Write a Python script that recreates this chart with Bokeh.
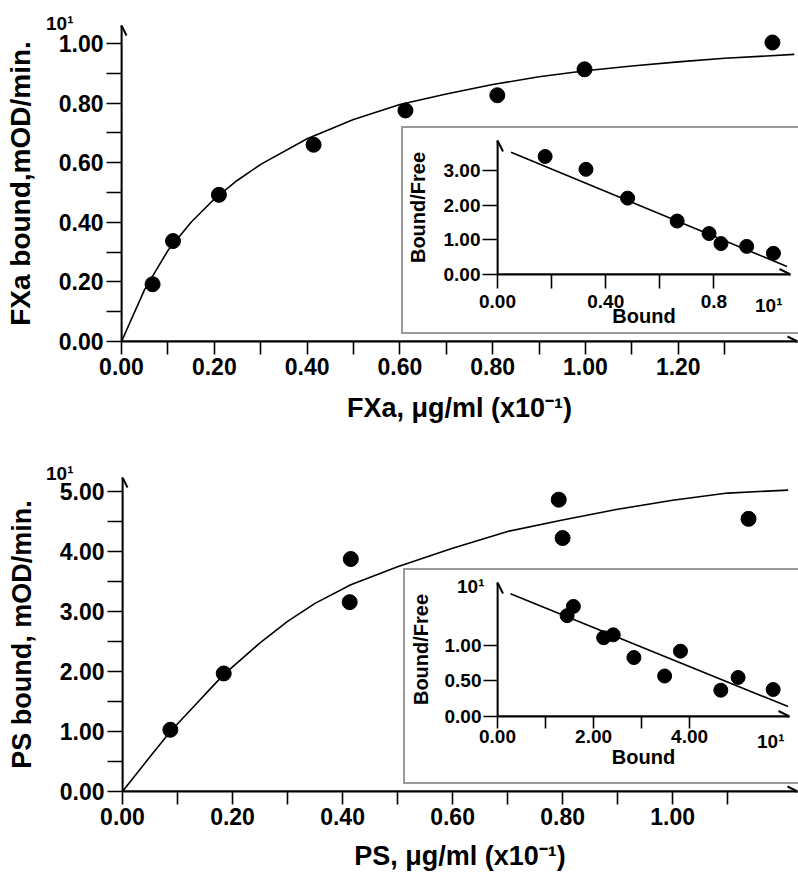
from bokeh.plotting import figure
from bokeh.models import (FixedTicker, PrintfTickFormatter, Arrow, OpenHead, Div, Range1d)
from bokeh.embed import file_html
from bokeh.resources import INLINE

FONT = "Liberation Sans"

# ---------------- data: FXa panel ----------------
fxa_conc = [0.067, 0.111, 0.21, 0.414, 0.612, 0.81, 0.998, 1.403]
fxa_bound = [0.192, 0.337, 0.492, 0.660, 0.775, 0.826, 0.913, 1.003]
fxa_fit_x = [0, 0.05, 0.1, 0.15, 0.2, 0.25, 0.3, 0.4, 0.5, 0.6, 0.7, 0.8, 0.9, 1.0, 1.1, 1.2, 1.3, 1.45]
fxa_fit_y = [0, 0.175, 0.305, 0.40, 0.478, 0.541, 0.594, 0.68, 0.745, 0.795, 0.83, 0.862, 0.888, 0.908, 0.924, 0.938, 0.95, 0.963]
fxa_sc_bound = [0.176, 0.327, 0.481, 0.664, 0.782, 0.826, 0.921, 1.02]
fxa_sc_ratio = [3.40, 3.03, 2.20, 1.54, 1.18, 0.89, 0.81, 0.61]
fxa_sc_line_x = [0.05, 1.07]
fxa_sc_line_y = [3.52, 0.23]

# ---------------- data: PS panel ----------------
ps_conc = [0.087, 0.184, 0.415, 0.413, 0.793, 0.80, 1.136, 1.138]
ps_bound = [1.03, 1.97, 3.88, 3.16, 4.87, 4.23, 5.46, 4.55]
ps_fit_x = [0, 0.05, 0.087, 0.15, 0.184, 0.25, 0.3, 0.35, 0.415, 0.5, 0.6, 0.7, 0.8, 0.9, 1.0, 1.1, 1.21]
ps_fit_y = [0, 0.58, 1.0, 1.62, 1.95, 2.48, 2.84, 3.14, 3.45, 3.75, 4.06, 4.34, 4.53, 4.71, 4.86, 4.98, 5.03]
ps_sc_bound = [1.58, 1.45, 2.21, 2.41, 2.84, 3.81, 3.48, 4.65, 5.01, 5.74]
ps_sc_ratio = [1.55, 1.42, 1.11, 1.15, 0.83, 0.92, 0.57, 0.37, 0.55, 0.38]
ps_sc_line_x = [0.27, 6.05]
ps_sc_line_y = [1.73, 0.14]

# ---------------- ticks ----------------
m1_x_major = [0, 0.2, 0.4, 0.6, 0.8, 1.0, 1.2]
m1_x_minor = [0.1, 0.3, 0.5, 0.7, 0.9, 1.1, 1.3]
m1_y_major = [0, 0.2, 0.4, 0.6, 0.8, 1.0]
m1_y_minor = [0.1, 0.3, 0.5, 0.7, 0.9]
m2_x_major = [0, 0.2, 0.4, 0.6, 0.8, 1.0]
m2_x_minor = [0.1, 0.3, 0.5, 0.7, 0.9, 1.1]
m2_y_major = [0, 1, 2, 3, 4, 5]
m2_y_minor = [0.5, 1.5, 2.5, 3.5, 4.5]
i1_x_major = [0, 0.4, 0.8]
i1_x_minor = [0.2, 0.6]
i1_y_major = [0, 1, 2, 3]
i2_x_major = [0, 2, 4]
i2_x_minor = [1, 3]
i2_y_major = [0, 0.5, 1.0]
EXP = "10\u00b9"

# ranges (arrow tips)
m1_xr, m1_yr = (0, 1.457), (0, 1.06)
m2_xr, m2_yr = (0, 1.227), (0, 5.24)
i1_xr, i1_yr = (0, 1.083), (0, 3.86)
i2_xr, i2_yr = (0, 6.08), (0, 1.887)


def make_fig(width, height, left, top, fw, fh, xr, yr, pos, extra_styles=None):
    p = figure(width=width, height=height, x_range=Range1d(*xr), y_range=Range1d(*yr),
               output_backend="svg", toolbar_location=None,
               min_border_left=left, min_border_top=top,
               min_border_right=width - left - fw, min_border_bottom=height - top - fh)
    p.xgrid.visible = False
    p.ygrid.visible = False
    p.outline_line_color = None
    p.background_fill_color = "white"
    p.border_fill_color = "white"
    st = {"position": "absolute", "left": f"{pos[0]}px", "top": f"{pos[1]}px"}
    if extra_styles:
        st.update(extra_styles)
    p.styles = st
    return p


def style_axis(ax, major, minor, fmt, tick_len, lab_size, lab_standoff,
               title, title_size, title_standoff):
    ax.ticker = FixedTicker(ticks=major, minor_ticks=minor)
    ax.formatter = PrintfTickFormatter(format=fmt)
    ax.major_tick_in = 0
    ax.minor_tick_in = 0
    ax.major_tick_out = tick_len
    ax.minor_tick_out = tick_len if minor else 0
    ax.major_tick_line_width = 1.6
    ax.minor_tick_line_width = 1.6
    ax.major_tick_line_color = "black"
    ax.minor_tick_line_color = "black"
    ax.axis_line_width = 1.8
    ax.axis_line_color = "black"
    ax.major_label_text_font = FONT
    ax.major_label_text_font_style = "bold"
    ax.major_label_text_font_size = lab_size
    ax.major_label_text_color = "black"
    ax.major_label_standoff = lab_standoff
    ax.axis_label = title
    ax.axis_label_text_font = FONT
    ax.axis_label_text_font_style = "bold"
    ax.axis_label_text_font_size = title_size
    ax.axis_label_text_color = "black"
    ax.axis_label_standoff = title_standoff


def add_arrows(p, xr, yr, size):
    p.add_layout(Arrow(end=OpenHead(size=size, line_width=2, line_color="black"),
                       x_start=xr[0], y_start=yr[0], x_end=xr[1], y_end=yr[0],
                       line_width=1.8, line_color="black"))
    p.add_layout(Arrow(end=OpenHead(size=size, line_width=2, line_color="black"),
                       x_start=xr[0], y_start=yr[0], x_end=xr[0], y_end=yr[1],
                       line_width=1.8, line_color="black"))


def exp_div(left, top, size):
    return Div(text=EXP, width=44, height=int(size) + 6,
               styles={"position": "absolute", "left": f"{left}px", "top": f"{top}px",
                       "font-family": FONT, "font-weight": "bold",
                       "font-size": f"{size}px", "line-height": f"{size}px",
                       "color": "black", "margin": "0", "padding": "0"})


BOX = {"box-shadow": "0 0 0 2px #9a9a9a"}

# ---------------- main FXa ----------------
p1 = make_fig(798, 435, 121, 25, 676, 316, m1_xr, m1_yr, (0, 0))
style_axis(p1.xaxis[0], m1_x_major, m1_x_minor, "%.2f", 13, "23px", 3,
           "FXa, \u03bcg/ml (x10\u207b\u00b9)", "27px", 15)
style_axis(p1.yaxis[0], m1_y_major, m1_y_minor, "%.2f", 15, "23px", 3,
           "FXa bound,mOD/min.", "28px", 20)
p1.line(fxa_fit_x, fxa_fit_y, line_width=1.6, color="black")
p1.scatter(fxa_conc, fxa_bound, size=15, color="black")
add_arrows(p1, m1_xr, m1_yr, 10)

# ---------------- inset FXa ----------------
q1 = make_fig(395, 204, 92, 12, 295, 134, i1_xr, i1_yr, (403, 128), BOX)
style_axis(q1.xaxis[0], i1_x_major, i1_x_minor, "%.2f", 14, "19px", 6, "Bound", "20px", -6)
q1.xaxis[0].major_label_overrides = {0.8: "0.8"}
style_axis(q1.yaxis[0], i1_y_major, [], "%.2f", 15, "19px", 2, "Bound/Free", "20px", 12)
q1.line(fxa_sc_line_x, fxa_sc_line_y, line_width=1.6, color="black")
q1.scatter(fxa_sc_bound, fxa_sc_ratio, size=14, color="black")
add_arrows(q1, i1_xr, i1_yr, 11)

# ---------------- main PS ----------------
p2 = make_fig(798, 432, 122, 32, 675, 314, m2_xr, m2_yr, (0, 445))
style_axis(p2.xaxis[0], m2_x_major, m2_x_minor, "%.2f", 13, "23px", 3,
           "PS, \u03bcg/ml (x10\u207b\u00b9)", "27px", 13)
style_axis(p2.yaxis[0], m2_y_major, m2_y_minor, "%.2f", 15, "23px", 3,
           "PS bound, mOD/min.", "27px", 20)
p2.line(ps_fit_x, ps_fit_y, line_width=1.6, color="black")
p2.scatter(ps_conc, ps_bound, size=15, color="black")
add_arrows(p2, m2_xr, m2_yr, 10)

# ---------------- inset PS ----------------
q2 = make_fig(393, 212, 92, 12, 292, 134, i2_xr, i2_yr, (405, 570), BOX)
style_axis(q2.xaxis[0], i2_x_major, i2_x_minor, "%.2f", 12, "19px", 1, "Bound", "20px", 0)
style_axis(q2.yaxis[0], i2_y_major, [], "%.2f", 14, "19px", 2, "Bound/Free", "20px", 10)
q2.line(ps_sc_line_x, ps_sc_line_y, line_width=1.6, color="black")
q2.scatter(ps_sc_bound, ps_sc_ratio, size=14, color="black")
add_arrows(q2, i2_xr, i2_yr, 11)

# ---------------- "10¹" scale marks ----------------
exps = [exp_div(46, 14, 19), exp_div(46, 464, 19), exp_div(457, 577, 19),
        exp_div(755, 296, 19), exp_div(757, 732, 19)]

open("out.html", "w").write(file_html([p1, q1, p2, q2] + exps, INLINE))
